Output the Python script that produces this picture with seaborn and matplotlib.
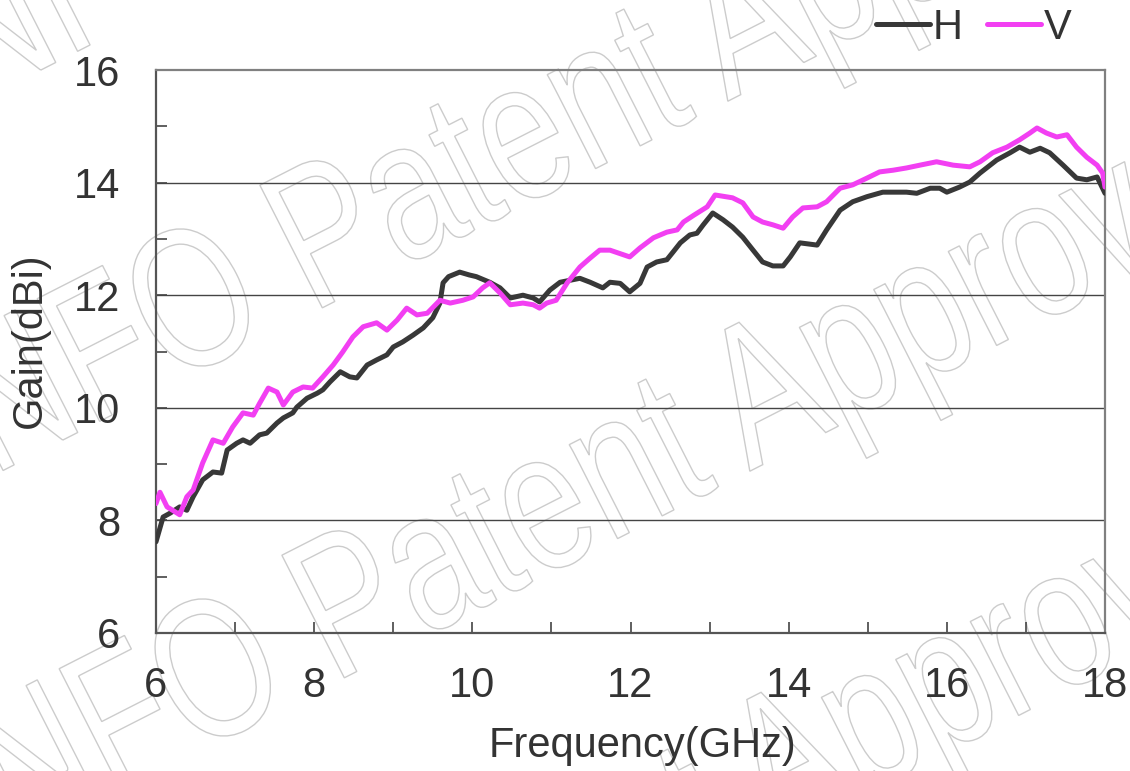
import matplotlib
matplotlib.use("Agg")
import matplotlib.pyplot as plt
import matplotlib.transforms as mtransforms
from matplotlib.font_manager import FontProperties
from matplotlib.patches import PathPatch
from matplotlib.textpath import TextPath
from matplotlib.ticker import MultipleLocator
import pandas as pd
import seaborn as sns

# ── Data ──────────────────────────────────────────────────────────────────────
h_freq = [6.00, 6.09, 6.18, 6.30, 6.39, 6.47, 6.59, 6.72, 6.83, 6.90, 7.02, 7.10,
          7.19, 7.31, 7.40, 7.53, 7.61, 7.73, 7.78, 7.91, 8.04, 8.11, 8.20, 8.33,
          8.45, 8.54, 8.67, 8.79, 8.92, 9.00, 9.12, 9.25, 9.38, 9.50, 9.59, 9.63,
          9.70, 9.84, 9.96, 10.05, 10.22, 10.35, 10.48, 10.64, 10.77, 10.85, 10.98,
          11.11, 11.36, 11.49, 11.65, 11.74, 11.87, 11.99, 12.12, 12.21, 12.33,
          12.46, 12.54, 12.63, 12.75, 12.84, 12.92, 13.04, 13.17, 13.29, 13.42,
          13.55, 13.67, 13.80, 13.93, 14.02, 14.14, 14.36, 14.48, 14.65, 14.81,
          14.99, 15.19, 15.49, 15.62, 15.79, 15.91, 16.00, 16.16, 16.29, 16.42,
          16.63, 16.80, 16.92, 17.05, 17.18, 17.30, 17.47, 17.64, 17.77, 17.90, 18.00]
h_gain = [7.62, 8.06, 8.13, 8.24, 8.18, 8.42, 8.72, 8.86, 8.84, 9.25, 9.37, 9.43,
          9.37, 9.52, 9.55, 9.73, 9.82, 9.91, 10.01, 10.17, 10.26, 10.32, 10.46, 10.64,
          10.55, 10.53, 10.76, 10.85, 10.94, 11.08, 11.17, 11.29, 11.42, 11.60, 11.86, 12.22,
          12.33, 12.41, 12.36, 12.33, 12.23, 12.13, 11.95, 12.00, 11.95, 11.88, 12.09,
          12.23, 12.30, 12.23, 12.13, 12.23, 12.21, 12.06, 12.21, 12.50, 12.59,
          12.63, 12.77, 12.93, 13.07, 13.10, 13.25, 13.46, 13.34, 13.21, 13.03,
          12.80, 12.59, 12.52, 12.52, 12.68, 12.93, 12.89, 13.16, 13.51, 13.66,
          13.75, 13.83, 13.83, 13.81, 13.90, 13.90, 13.83, 13.92, 14.01, 14.17,
          14.40, 14.53, 14.63, 14.54, 14.61, 14.53, 14.31, 14.08, 14.05, 14.10, 13.81]

v_freq = [6.00, 6.05, 6.14, 6.21, 6.30, 6.39, 6.47, 6.59, 6.72, 6.85, 6.97, 7.10,
          7.23, 7.31, 7.42, 7.53, 7.61, 7.73, 7.86, 7.98, 8.11, 8.24, 8.36, 8.49,
          8.62, 8.79, 8.92, 9.05, 9.17, 9.30, 9.43, 9.59, 9.72, 9.88, 10.01, 10.13,
          10.22, 10.35, 10.48, 10.64, 10.77, 10.85, 10.94, 11.06, 11.20, 11.36, 11.49,
          11.61, 11.74, 11.99, 12.12, 12.29, 12.46, 12.59, 12.67, 12.80, 12.97, 13.07,
          13.29, 13.42, 13.55, 13.67, 13.80, 13.93, 14.05, 14.18, 14.36, 14.48, 14.65,
          14.81, 14.99, 15.15, 15.32, 15.49, 15.66, 15.87, 16.08, 16.29, 16.42, 16.58,
          16.76, 16.92, 17.05, 17.14, 17.26, 17.39, 17.52, 17.64, 17.77, 17.90, 17.97, 18.00]
v_gain = [8.30, 8.50, 8.24, 8.18, 8.10, 8.42, 8.54, 9.02, 9.43, 9.37, 9.66, 9.91,
          9.87, 10.08, 10.35, 10.28, 10.05, 10.28, 10.37, 10.35, 10.55, 10.76, 10.99, 11.26,
          11.44, 11.51, 11.38, 11.56, 11.77, 11.65, 11.68, 11.91, 11.86, 11.91, 11.97, 12.13,
          12.22, 12.04, 11.83, 11.86, 11.83, 11.77, 11.86, 11.91, 12.22, 12.50, 12.66,
          12.80, 12.80, 12.68, 12.84, 13.02, 13.12, 13.16, 13.30, 13.42, 13.57, 13.78,
          13.73, 13.64, 13.39, 13.30, 13.25, 13.19, 13.39, 13.55, 13.57, 13.66, 13.90,
          13.96, 14.08, 14.19, 14.22, 14.26, 14.31, 14.37, 14.31, 14.28, 14.37, 14.53,
          14.63, 14.76, 14.88, 14.97, 14.88, 14.81, 14.85, 14.63, 14.45, 14.31, 14.17, 13.92]

x_ticks = [6, 8, 10, 12, 14, 16, 18]
y_ticks = [6, 8, 10, 12, 14, 16]
grid_levels = [8, 10, 12, 14]
watermark = "INFO Patent Approved"

# ── Style ─────────────────────────────────────────────────────────────────────
sns.set_theme(style="white")
plt.rcParams["font.family"] = ["Liberation Sans", "DejaVu Sans"]

W, H = 1130, 771
fig = plt.figure(figsize=(W / 100, H / 100), dpi=100)
fig.patch.set_facecolor("white")
ax = fig.add_axes([156 / W, 1 - 633 / H, (1105 - 156) / W, (633 - 70) / H])
ax.patch.set_alpha(0)

h_df = pd.DataFrame({"freq": h_freq, "gain": h_gain})
v_df = pd.DataFrame({"freq": v_freq, "gain": v_gain})
sns.lineplot(data=h_df, x="freq", y="gain", ax=ax, color="#383838", lw=3.6,
             label="H", zorder=3)
sns.lineplot(data=v_df, x="freq", y="gain", ax=ax, color="#f23ff2", lw=3.6,
             label="V", zorder=4)

ax.set_xlim(6, 18)
ax.set_ylim(6, 16)
ax.set_xticks(x_ticks)
ax.set_yticks(y_ticks)
ax.xaxis.set_minor_locator(MultipleLocator(1))
ax.yaxis.set_minor_locator(MultipleLocator(1))
ax.tick_params(axis="both", which="both", direction="in", length=8, width=1.2,
               color="#444444", labelsize=30, labelcolor="#333333")
ax.tick_params(axis="x", which="both", bottom=True, top=False, pad=24)
ax.tick_params(axis="y", which="both", left=True, right=False, pad=26)
for level in grid_levels:
    ax.axhline(level, color="#444444", lw=1.0, zorder=1)
for side in ["left", "bottom", "top", "right"]:
    ax.spines[side].set_visible(True)
    ax.spines[side].set_color("#808080")
    ax.spines[side].set_linewidth(1.6)
ax.spines["left"].set_color("#555555")
ax.spines["bottom"].set_color("#555555")

ax.set_xlabel("Frequency(GHz)", fontsize=30, color="#333333")
ax.set_ylabel("Gain(dBi)", fontsize=30, color="#333333")
ax.xaxis.set_label_coords(0.513, -0.165)
ax.yaxis.set_label_coords(-0.112, 0.52)

ax.legend(loc="upper right", bbox_to_anchor=(0.982, 1.14), ncol=2, frameon=False,
          fontsize=30, handlelength=1.3, handletextpad=0.05, columnspacing=0.6,
          labelcolor="#333333", borderaxespad=0)

# ── Watermark: outlined, rotated text ────────────────────────────────────────
wm_prop = FontProperties(family="Liberation Sans")
wm_path = TextPath((0, 0), watermark, size=200, prop=wm_prop)
for x0, y0 in [(-67, 125), (-45, 495), (-23, 865), (-1, 1235)]:
    tr = (mtransforms.Affine2D().scale(0.75, 1.0).rotate_deg(27)
          .translate(x0, H - y0))
    patch = PathPatch(tr.transform_path(wm_path), facecolor="none",
                      edgecolor="#cccccc", lw=1.0,
                      transform=mtransforms.IdentityTransform(), zorder=-1)
    fig.add_artist(patch)

fig.savefig("out.png", dpi=100)
